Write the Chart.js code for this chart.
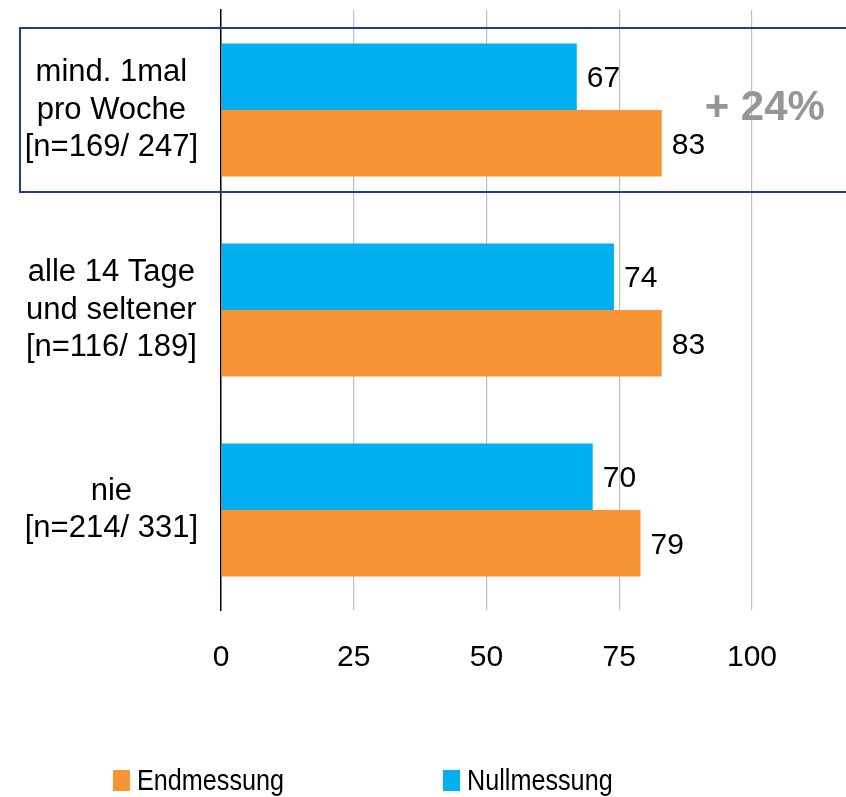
<!DOCTYPE html>
<html>
<head>
<meta charset="utf-8">
<script src="https://cdn.jsdelivr.net/npm/chart.js@4.4.1/dist/chart.umd.min.js"></script>
<style>
  html, body { margin: 0; padding: 0; background: #fff; }
  #wrap { width: 846px; height: 797px; }
</style>
</head>
<body>
<div id="wrap"><canvas id="chart" width="846" height="797"></canvas></div>
<script>
// data
const categories = [
  ["mind. 1mal", "pro Woche", "[n=169/ 247]"],
  ["alle 14 Tage", "und seltener", "[n=116/ 189]"],
  ["nie", "[n=214/ 331]"]
];
const nullmessung = [67, 74, 70];
const endmessung = [83, 83, 79];
const xTicks = [0, 25, 50, 75, 100];
const highlightText = "+ 24%";

const FONT = "'Liberation Sans', Arial, sans-serif";
const BLUE = "#00B0F0";
const ORANGE = "#F79433";

// value labels at the end of each bar
const valueLabels = {
  id: "valueLabels",
  afterDatasetsDraw(chart) {
    const ctx = chart.ctx;
    ctx.save();
    ctx.font = "30px " + FONT;
    ctx.fillStyle = "#000";
    ctx.textAlign = "left";
    ctx.textBaseline = "middle";
    chart.data.datasets.forEach((ds, i) => {
      chart.getDatasetMeta(i).data.forEach((bar, j) => {
        ctx.fillText(String(ds.data[j]), bar.x + 10, bar.y + 2);
      });
    });
    ctx.restore();
  }
};

// blue frame around first category + "+ 24%"
const highlight = {
  id: "highlight",
  afterDraw(chart) {
    const ctx = chart.ctx;
    const y = chart.scales.y;
    const x = chart.scales.x;
    const c = y.getPixelForValue(0);
    const step = y.getPixelForValue(1) - c;
    const half = step * 0.41;
    ctx.save();
    ctx.strokeStyle = "#1F3C9A";
    ctx.lineWidth = 2;
    ctx.strokeRect(20, c - half, chart.width + 10, half * 2);
    ctx.font = "bold 42px " + FONT;
    ctx.fillStyle = "#969696";
    ctx.textAlign = "center";
    ctx.textBaseline = "middle";
    ctx.fillText(highlightText, x.getPixelForValue(102.4), c - 2);
    ctx.restore();
  }
};

// legend drawn by hand (Endmessung first)
const customLegend = {
  id: "customLegend",
  afterDraw(chart) {
    const ctx = chart.ctx;
    const items = [
      { ds: chart.data.datasets[1], x: 113 },
      { ds: chart.data.datasets[0], x: 443 }
    ];
    ctx.save();
    ctx.font = "30px " + FONT;
    ctx.textBaseline = "alphabetic";
    items.forEach(it => {
      ctx.fillStyle = it.ds.backgroundColor;
      ctx.fillRect(it.x, 770, 17, 21);
      ctx.save();
      ctx.translate(it.x + 24, 790);
      ctx.scale(0.84, 1);
      ctx.fillStyle = "#000";
      ctx.fillText(it.ds.label, 0, 0);
      ctx.restore();
    });
    ctx.restore();
  }
};

new Chart(document.getElementById("chart"), {
  type: "bar",
  data: {
    labels: categories,
    datasets: [
      { label: "Nullmessung", data: nullmessung, backgroundColor: BLUE },
      { label: "Endmessung", data: endmessung, backgroundColor: ORANGE }
    ]
  },
  options: {
    indexAxis: "y",
    responsive: false,
    animation: false,
    categoryPercentage: 0.666,
    barPercentage: 1,
    layout: { padding: { top: 10, right: 0, bottom: 91, left: 0 } },
    plugins: {
      legend: { display: false },
      tooltip: { enabled: false }
    },
    scales: {
      x: {
        min: 0,
        max: 117.7,
        afterBuildTicks(scale) {
          scale.ticks = xTicks.map(v => ({ value: v }));
        },
        afterFit(scale) {
          scale.paddingLeft = 0;
          scale.paddingRight = 0;
        },
        grid: {
          drawTicks: false,
          lineWidth: 1.2,
          color: c => (c.tick && c.tick.value === 0 ? "rgba(0,0,0,0)" : "#BFBFBF")
        },
        border: { display: false },
        ticks: {
          padding: 30,
          color: "#000",
          font: { family: FONT, size: 30 }
        }
      },
      y: {
        afterFit(scale) {
          scale.width = 221;
          scale.paddingTop = 0;
          scale.paddingBottom = 0;
        },
        grid: { display: false, drawTicks: false },
        border: { display: true, color: "#000", width: 1.5 },
        ticks: {
          crossAlign: "center",
          padding: 23,
          color: "#000",
          font: { family: FONT, size: 31, lineHeight: 1.2 }
        }
      }
    }
  },
  plugins: [valueLabels, highlight, customLegend]
});
</script>
</body>
</html>
